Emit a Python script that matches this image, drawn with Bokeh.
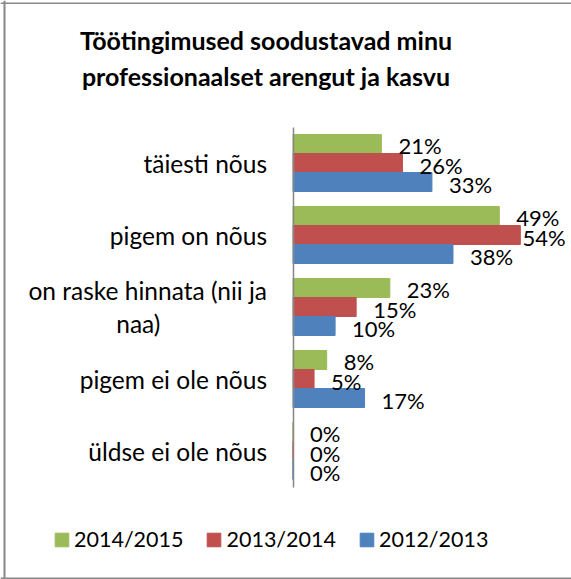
from bokeh.plotting import figure
from bokeh.models import (Range1d, ColumnDataSource, LabelSet, Label, Span,
                          Legend, LegendItem, FixedTicker)
from bokeh.core.properties import value
from bokeh.transform import dodge
from bokeh.embed import file_html
from bokeh.resources import INLINE

categories = ["täiesti nõus", "pigem on nõus", "on raske hinnata (nii ja\nnaa)",
              "pigem ei ole nõus", "üldse ei ole nõus"]
series_names = ["2014/2015", "2013/2014", "2012/2013"]
v_2014_2015 = [21, 49, 23, 8, 0]
v_2013_2014 = [26, 54, 15, 5, 0]
v_2012_2013 = [33, 38, 10, 17, 0]
series_values = [v_2014_2015, v_2013_2014, v_2012_2013]
colors = ["#9BBB59", "#C0504D", "#4F81BD"]
title_text = "Töötingimused soodustavad minu\nprofessionaalset arengut ja kasvu"

FONT = "Lato"
W, H = 571, 579          # canvas size
PX = 4.21                # pixels per percent
ROW = 72                 # pixels per category
X0_PX = 292.5            # canvas x of 0 %
Y_TOP_PX = 126.5         # canvas y of top of category band
BAR_H = 0.264
LABEL_GAP = 17
LABEL_W = 45             # approx width of a "nn%" label in px
LABEL_LIMIT_PX = 567     # labels are kept left of this x
CENTER_PAD = "\u00a0" * 17   # centres the short second line of a wrapped label

n = len(categories)
ypos = [n - 1 - i for i in range(n)]
offsets = [BAR_H, 0.0, -BAR_H]

x_start = -X0_PX / PX
x_end = (W - X0_PX) / PX
y_end = (n - 0.5) + Y_TOP_PX / ROW
y_start = (n - 0.5) - (H - Y_TOP_PX) / ROW


def px_to_x(px):
    return (px - X0_PX) / PX


def px_to_y(py):
    return (n - 0.5) + (Y_TOP_PX - py) / ROW


p = figure(width=W, height=H,
           x_range=Range1d(x_start, x_end), y_range=Range1d(y_start, y_end),
           output_backend="svg", toolbar_location=None,
           min_border_left=0, min_border_right=0,
           min_border_top=0, min_border_bottom=0)
p.outline_line_color = None
p.xgrid.visible = False
p.ygrid.visible = False
p.xaxis.visible = False
p.background_fill_color = "white"
p.border_fill_color = "white"

# chart border (left, top, bottom)
BORDER = "#888888"
p.add_layout(Span(location=px_to_x(4), dimension="height", line_color=BORDER, line_width=2))
p.add_layout(Span(location=px_to_y(2.75), dimension="width", line_color=BORDER, line_width=1.5))
p.add_layout(Span(location=px_to_y(578), dimension="width", line_color=BORDER, line_width=2))


def axis_text(c):
    lines = c.split("\n")
    return "\n".join([lines[0]] + [ln + CENTER_PAD for ln in lines[1:]])


ax = p.yaxis[0]
ax.fixed_location = 0
ax.bounds = (-0.5, n - 0.5)
ax.ticker = FixedTicker(ticks=ypos)
ax.major_label_overrides = {float(y): axis_text(c) for y, c in zip(ypos, categories)}
ax.axis_line_color = "#868686"
ax.axis_line_width = 1.5
ax.major_tick_line_color = None
ax.minor_tick_line_color = None
ax.major_tick_out = 0
ax.major_tick_in = 0
ax.major_label_standoff = 26
ax.major_label_text_font = FONT
ax.major_label_text_font_size = "24.5px"
ax.major_label_text_color = "black"
ax.major_label_text_line_height = 1.12

items = []
for name, vals, col, off in zip(series_names, series_values, colors, offsets):
    xoff = [min(LABEL_GAP, (px_to_x(LABEL_LIMIT_PX) - v) * PX - LABEL_W) for v in vals]
    src = ColumnDataSource(dict(y=ypos, val=vals, xoff=xoff,
                                txt=[f"{v}%" for v in vals]))
    r = p.hbar(y=dodge("y", off), left=0, right="val",
               height=BAR_H, source=src, fill_color=col, line_color=col)
    items.append(LegendItem(label=name, renderers=[r]))
    p.add_layout(LabelSet(x="val", y=dodge("y", off), text="txt",
                          source=src, x_offset="xoff", y_offset=-2,
                          text_align="left", text_baseline="middle",
                          text_font=value(FONT), text_font_size="22px",
                          text_color="black"))

title = Label(x=px_to_x(265.5), y=px_to_y(57.5),
              text=title_text, text_align="center",
              text_baseline="middle", text_font=FONT, text_font_style="bold",
              text_font_size="25px", text_line_height=1.2, text_color="black")
p.add_layout(title)

legend = Legend(items=items, orientation="horizontal", location=(53, 27),
                glyph_width=17, glyph_height=17, label_standoff=4, spacing=22,
                padding=0, margin=0, border_line_color=None,
                background_fill_alpha=0,
                label_text_font=FONT, label_text_font_size="21.5px",
                label_text_color="black")
p.add_layout(legend, "center")

open("out.html", "w").write(file_html(p, INLINE))
